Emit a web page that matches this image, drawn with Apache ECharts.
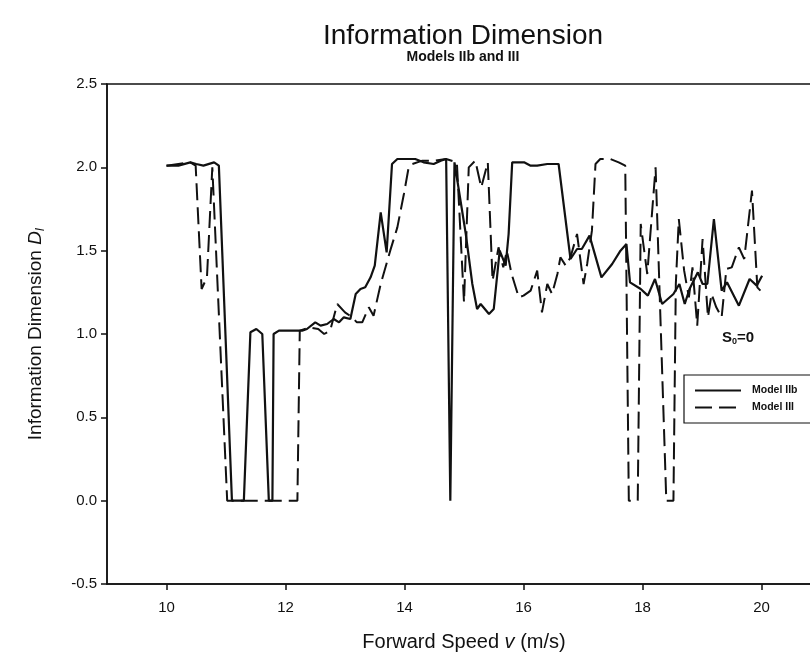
<!DOCTYPE html>
<html>
<head>
<meta charset="utf-8">
<script src="https://cdn.jsdelivr.net/npm/echarts@6/dist/echarts.min.js"></script>
<style>
  html, body { margin: 0; padding: 0; background: #fff; }
  #chart { width: 810px; height: 658px; }
</style>
</head>
<body>
<div id="chart"></div>
<script>
// Model IIb: forward speed (m/s) and information dimension
const iibSpeed = [10.00, 10.20, 10.40, 10.50, 10.62, 10.80, 10.88, 11.10, 11.30, 11.41, 11.51, 11.61, 11.72, 11.78,
  11.80, 11.89, 12.08, 12.28, 12.36, 12.50, 12.59, 12.70, 12.81, 12.90, 12.98, 13.09, 13.18, 13.26, 13.34, 13.43,
  13.50, 13.60, 13.70, 13.79, 13.88, 14.18, 14.32, 14.49, 14.61, 14.70, 14.77, 14.84, 15.03, 15.14, 15.22, 15.28,
  15.42, 15.50, 15.60, 15.70, 15.75, 15.81, 16.01, 16.12, 16.23, 16.40, 16.59, 16.79, 16.90, 16.98, 17.11, 17.31,
  17.49, 17.63, 17.73, 17.79, 17.97, 18.09, 18.21, 18.33, 18.52, 18.62, 18.71, 18.79, 18.93, 19.01, 19.09, 19.20,
  19.33, 19.42, 19.62, 19.80, 19.92, 20.01];
const iibDim = [2.01, 2.01, 2.03, 2.02, 2.01, 2.03, 2.01, 0.00, 0.00, 1.01, 1.03, 1.00, 0.00, 0.00,
  1.00, 1.02, 1.02, 1.02, 1.03, 1.07, 1.05, 1.06, 1.09, 1.07, 1.10, 1.09, 1.24, 1.27, 1.28, 1.34,
  1.41, 1.73, 1.49, 2.02, 2.05, 2.05, 2.03, 2.02, 2.04, 2.05, 0.00, 2.03, 1.60, 1.30, 1.15, 1.18,
  1.12, 1.15, 1.50, 1.41, 1.60, 2.03, 2.03, 2.01, 2.01, 2.02, 2.02, 1.45, 1.51, 1.51, 1.59, 1.34,
  1.42, 1.50, 1.54, 1.31, 1.27, 1.23, 1.33, 1.18, 1.24, 1.30, 1.18, 1.27, 1.37, 1.30, 1.30, 1.69,
  1.26, 1.31, 1.17, 1.33, 1.29, 1.35];

// Model III: forward speed (m/s) and information dimension
const iiiSpeed = [10.00, 10.20, 10.40, 10.49, 10.59, 10.68, 10.77, 11.02, 12.20, 12.24, 12.40, 12.55, 12.65, 12.75,
  12.87, 13.00, 13.12, 13.20, 13.29, 13.40, 13.48, 13.60, 13.76, 13.88, 13.99, 14.07, 14.13, 14.30, 14.50, 14.70,
  14.88, 15.00, 15.08, 15.19, 15.29, 15.40, 15.48, 15.58, 15.66, 15.72, 15.80, 15.92, 16.00, 16.12, 16.23, 16.31,
  16.40, 16.48, 16.57, 16.62, 16.71, 16.79, 16.90, 17.01, 17.07, 17.15, 17.21, 17.29, 17.46, 17.60, 17.71, 17.77,
  17.92, 17.97, 18.08, 18.22, 18.40, 18.52, 18.56, 18.61, 18.70, 18.78, 18.84, 18.92, 19.01, 19.10, 19.16, 19.24,
  19.33, 19.41, 19.50, 19.62, 19.71, 19.84, 19.93, 20.01];
const iiiDim = [2.01, 2.02, 2.03, 2.01, 1.27, 1.34, 2.00, 0.00, 0.00, 1.02, 1.04, 1.03, 1.00, 1.02,
  1.18, 1.13, 1.10, 1.07, 1.07, 1.16, 1.11, 1.30, 1.50, 1.64, 1.84, 2.00, 2.02, 2.04, 2.04, 2.05,
  2.03, 1.19, 2.00, 2.04, 1.88, 2.03, 1.32, 1.52, 1.40, 1.50, 1.36, 1.22, 1.23, 1.26, 1.38, 1.13,
  1.30, 1.24, 1.36, 1.46, 1.41, 1.46, 1.60, 1.30, 1.42, 1.62, 2.02, 2.05, 2.05, 2.03, 2.01, 0.00,
  0.00, 1.66, 1.36, 2.00, 0.00, 0.00, 1.30, 1.69, 1.38, 1.22, 1.40, 1.05, 1.57, 1.10, 1.24, 1.16,
  1.10, 1.39, 1.40, 1.52, 1.45, 1.86, 1.28, 1.25];

// Axis ticks
const speedTicks = [10, 12, 14, 16, 18, 20];

const FONT = '"Liberation Sans", Arial, Helvetica, sans-serif';

const pairs = (xs, ys) => xs.map((x, i) => [x, ys[i]]);

const chart = echarts.init(document.getElementById('chart'), null, { renderer: 'canvas' });

chart.setOption({
  backgroundColor: '#ffffff',
  animation: false,
  title: {
    text: 'Information Dimension',
    subtext: 'Models IIb and III',
    left: 458,
    top: 17,
    textAlign: 'center',
    itemGap: 0,
    textStyle: { fontFamily: FONT, fontSize: 28, fontWeight: 'normal', color: '#111' },
    subtextStyle: { fontFamily: FONT, fontSize: 14, fontWeight: 'bold', color: '#111' }
  },
  grid: {
    // the frame runs past the right edge of the page
    left: 107, top: 84, width: 714, height: 500,
    outerBoundsMode: 'none',
    containLabel: false,
    show: true, borderColor: '#111', borderWidth: 1.5, backgroundColor: 'transparent'
  },
  legend: {
    left: 684,
    top: 375,
    orient: 'vertical',
    itemWidth: 46,
    itemHeight: 10,
    itemGap: 6,
    padding: [10, 40, 10, 10],
    borderColor: '#111',
    borderWidth: 1.2,
    itemStyle: { color: 'transparent', borderColor: 'transparent', borderWidth: 0 },
    textStyle: { fontFamily: FONT, fontSize: 10.5, fontWeight: 'bold', color: '#111', padding: [0, 0, 0, 6] },
    data: ['Model IIb', 'Model III']
  },
  xAxis: {
    type: 'value',
    min: 9,
    max: 21,
    name: 'Forward Speed {v|v} (m/s)',
    nameLocation: 'middle',
    nameGap: 48,
    nameTextStyle: {
      fontFamily: FONT, fontSize: 20, color: '#111',
      rich: { v: { fontFamily: FONT, fontSize: 20, fontStyle: 'italic', color: '#111' } }
    },
    axisLine: { onZero: false, lineStyle: { color: '#111', width: 1.5 } },
    axisTick: { show: true, customValues: speedTicks, length: 6, inside: false, lineStyle: { color: '#111', width: 1.5 } },
    axisLabel: { customValues: speedTicks, margin: 16, fontFamily: FONT, fontSize: 15, color: '#111' },
    splitLine: { show: false }
  },
  yAxis: {
    type: 'value',
    min: -0.5,
    max: 2.5,
    interval: 0.5,
    name: 'Information Dimension {d|D}{s|I}',
    nameLocation: 'middle',
    nameGap: 60,
    nameRotate: 90,
    nameTextStyle: {
      fontFamily: FONT, fontSize: 19, color: '#111',
      rich: {
        d: { fontFamily: FONT, fontSize: 19, fontStyle: 'italic', color: '#111' },
        s: { fontFamily: FONT, fontSize: 12, fontStyle: 'italic', color: '#111', padding: [10, 0, 0, 0] }
      }
    },
    axisLine: { lineStyle: { color: '#111', width: 1.5 } },
    axisTick: { show: true, length: 6, lineStyle: { color: '#111', width: 1.5 } },
    axisLabel: {
      margin: 10, fontFamily: FONT, fontSize: 15, color: '#111',
      formatter: v => (Math.abs(v) < 1e-9 ? 0 : v).toFixed(1)
    },
    splitLine: { show: false }
  },
  graphic: [
    {
      type: 'text',
      left: 722,
      top: 330,
      style: {
        text: 'S{s|0}=0',
        fontFamily: FONT, fontSize: 15, fontWeight: 'bold', fill: '#111',
        rich: { s: { fontFamily: FONT, fontSize: 9, fontWeight: 'bold', fill: '#111', padding: [8, 0, 0, 0] } }
      }
    }
  ],
  series: [
    {
      name: 'Model IIb',
      type: 'line',
      data: pairs(iibSpeed, iibDim),
      showSymbol: false,
      symbol: 'none',
      lineStyle: { color: '#111', width: 2.2 },
      itemStyle: { color: '#111' }
    },
    {
      name: 'Model III',
      type: 'line',
      data: pairs(iiiSpeed, iiiDim),
      showSymbol: false,
      symbol: 'none',
      lineStyle: { color: '#111', width: 2, type: [17, 7] },
      itemStyle: { color: '#111' }
    }
  ]
});
</script>
</body>
</html>
